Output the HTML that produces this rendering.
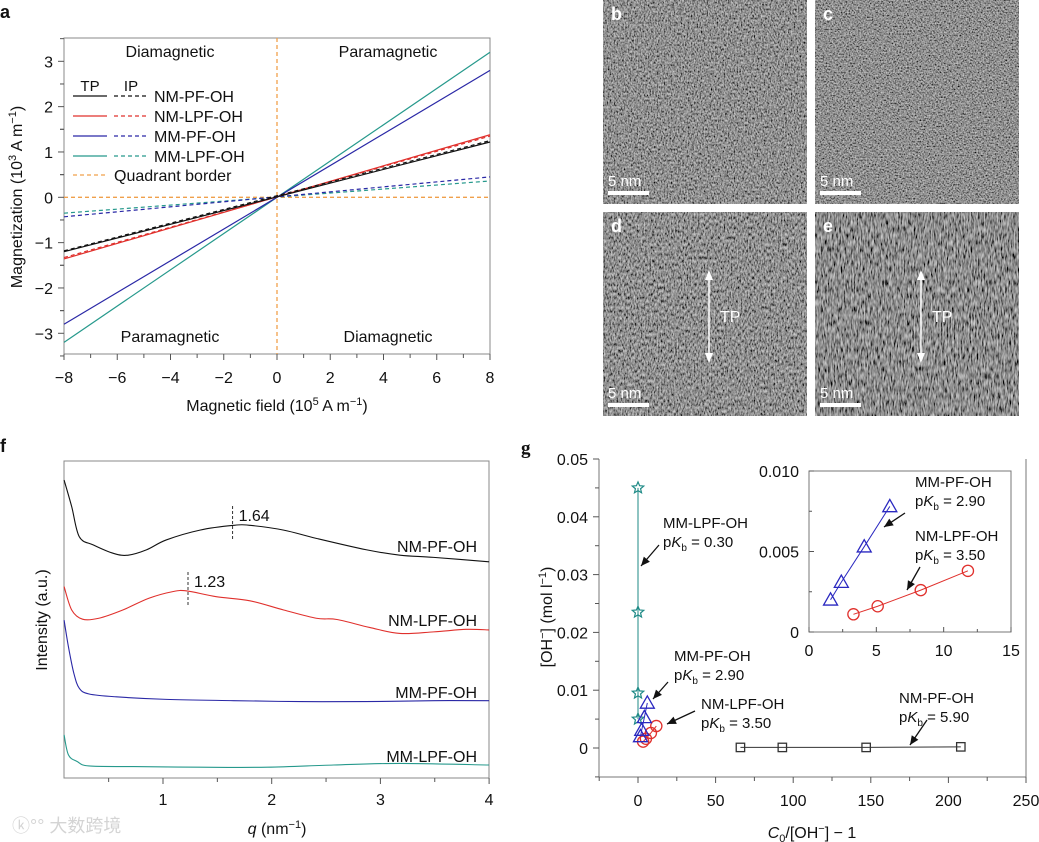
<!DOCTYPE html>
<html><head><meta charset="utf-8">
<style>
html,body{margin:0;padding:0;background:#fff;}
svg{display:block;font-family:"Liberation Sans","Noto Sans CJK SC",sans-serif;}
</style></head>
<body>
<svg id="fig" width="1039" height="842" viewBox="0 0 1039 842" xmlns="http://www.w3.org/2000/svg">
<defs>
<filter id="noiseB" x="0" y="0" width="100%" height="100%"><feTurbulence type="fractalNoise" baseFrequency="0.7 0.45" numOctaves="2" seed="3"/><feColorMatrix type="matrix" values="1.0 0 0 0 -0.22  1.0 0 0 0 -0.22  1.0 0 0 0 -0.22  0 0 0 0 1"/></filter>
<filter id="noiseC" x="0" y="0" width="100%" height="100%"><feTurbulence type="fractalNoise" baseFrequency="0.65" numOctaves="2" seed="7"/><feColorMatrix type="matrix" values="1.0 0 0 0 -0.22  1.0 0 0 0 -0.22  1.0 0 0 0 -0.22  0 0 0 0 1"/></filter>
<filter id="noiseD" x="0" y="0" width="100%" height="100%"><feTurbulence type="fractalNoise" baseFrequency="0.7 0.3" numOctaves="2" seed="11"/><feColorMatrix type="matrix" values="1.0 0 0 0 -0.22  1.0 0 0 0 -0.22  1.0 0 0 0 -0.22  0 0 0 0 1"/></filter>
<filter id="noiseE" x="0" y="0" width="100%" height="100%"><feTurbulence type="fractalNoise" baseFrequency="0.7 0.15" numOctaves="2" seed="19"/><feColorMatrix type="matrix" values="1.1 0 0 0 -0.28  1.1 0 0 0 -0.28  1.1 0 0 0 -0.28  0 0 0 0 1"/></filter>
</defs>
<g id="pa"></g>
<g id="pimg"></g>
<g id="pf"></g>
<g id="pg"></g>
</svg>
<script>
// ---------- Panel a data ----------
const aSeriesNames = ["NM-PF-OH","NM-LPF-OH","MM-PF-OH","MM-LPF-OH"];
const aColors = ["#111111","#e0302c","#2a28a6","#26998c"];
const aFieldEnds = [-8, 8];
const aTPneg = [-1.2, -1.36, -2.8, -3.2];
const aTPpos = [1.22, 1.38, 2.8, 3.2];
const aIPneg = [-1.18, -1.33, -0.43, -0.35];
const aIPpos = [1.25, 1.35, 0.45, 0.36];
const aXTicks = [-8,-6,-4,-2,0,2,4,6,8];
const aYTicks = [-3,-2,-1,0,1,2,3];
// ---------- Panel f data ----------
const fNames = ["NM-PF-OH","NM-LPF-OH","MM-PF-OH","MM-LPF-OH"];
const fColors = ["#111111","#e0302c","#2a28a6","#26998c"];
const fQ0 = [0.09,0.16,0.23,0.36,0.55,0.68,0.85,1.03,1.34,1.65,1.80,2.11,2.41,2.87,3.18,3.49,4.0];
const fI0 = [94.0,85.6,76.1,73.5,70.8,70.3,72.0,75.1,78.2,79.7,79.7,78.2,75.6,72.0,70.3,69.6,68.2];
const fQ1 = [0.09,0.16,0.26,0.41,0.63,0.87,1.09,1.22,1.49,1.80,2.11,2.41,2.6,2.9,3.18,3.49,3.79,4.0];
const fI1 = [60.4,53.0,50.1,50.4,53.0,56.7,58.8,59.0,57.2,55.9,53.0,50.4,50.0,47.5,45.6,46.1,46.9,46.7];
const fQ2 = [0.09,0.13,0.18,0.23,0.32,0.57,1.03,1.65,2.26,2.87,3.49,4.0];
const fI2 = [49.8,41.4,33.0,28.3,26.5,25.6,24.8,24.4,24.1,24.1,24.4,24.4];
const fQ3 = [0.09,0.13,0.21,0.32,0.73,1.34,1.96,2.57,3.18,4.0];
const fI3 = [13.6,7.3,5.2,3.8,3.6,3.4,3.4,4.1,4.6,4.1];
const fPeaks = [1.64, 1.23];
const fPeakLabels = ["1.64","1.23"];
const fXTicks = [1,2,3,4];
// ---------- Panel g data ----------
const gStarX = [0,0,0,0];
const gStarY = [0.045,0.0235,0.0095,0.005];
const gTriX = [1.6,2.4,4.1,6.0];
const gTriY = [0.0020,0.0031,0.0053,0.0078];
const gCirX = [3.3,5.1,8.3,11.8];
const gCirY = [0.0011,0.0016,0.0026,0.0038];
const gSqX = [66,93,147,208];
const gSqY = [0.0001,0.0001,0.0001,0.0002];
const gXTicks = [0,50,100,150,200,250];
const gYTicks = [0,0.01,0.02,0.03,0.04,0.05];
const gYTickLabels = ["0","0.01","0.02","0.03","0.04","0.05"];
const gInXTicks = [0,5,10,15];
const gInYTicks = [0,0.005,0.010];
const gInYTickLabels = ["0","0.005","0.010"];

const NS = "http://www.w3.org/2000/svg";
function mk(tag, attrs, parent, text){
  const el = document.createElementNS(NS, tag);
  for (const k in attrs) el.setAttribute(k, attrs[k]);
  if (text !== undefined) el.textContent = text;
  parent.appendChild(el);
  return el;
}
function txt(parent, x, y, s, size, anchor, extra){
  const el = mk("text", Object.assign({x:x, y:y, "font-size":size, "text-anchor":anchor||"start", fill:"#111"}, extra||{}), parent, s);
  return el;
}
function smooth(pts){
  let d = "M" + pts[0][0] + "," + pts[0][1];
  for (let i=0;i<pts.length-1;i++){
    const p0 = pts[Math.max(0,i-1)], p1 = pts[i], p2 = pts[i+1], p3 = pts[Math.min(pts.length-1,i+2)];
    const c1x = p1[0] + (p2[0]-p0[0])/6, c1y = p1[1] + (p2[1]-p0[1])/6;
    const c2x = p2[0] - (p3[0]-p1[0])/6, c2y = p2[1] - (p3[1]-p1[1])/6;
    d += " C" + c1x + "," + c1y + " " + c2x + "," + c2y + " " + p2[0] + "," + p2[1];
  }
  return d;
}
function arrow(parent, x1, y1, x2, y2){
  const g = mk("g", {}, parent);
  mk("line", {x1:x1,y1:y1,x2:x2,y2:y2,stroke:"#111","stroke-width":1.3}, g);
  const ang = Math.atan2(y2-y1, x2-x1), L = 9, W = 4;
  const bx = x2 - L*Math.cos(ang), by = y2 - L*Math.sin(ang);
  const px = -Math.sin(ang)*W, py = Math.cos(ang)*W;
  mk("polygon", {points: x2+","+y2+" "+(bx+px)+","+(by+py)+" "+(bx-px)+","+(by-py), fill:"#111"}, g);
  return g;
}

// ================= Panel a =================
(function(){
  const P = document.getElementById("pa");
  const L=64, R=490, T=38, B=354;
  const xs = v => 277 + v*26.625;
  const ys = v => 197.3 - v*45.33;
  const lt = txt(P, 0, 18, "a", 18, "start", {"font-weight":"bold"});
  
  
  const fr = mk("rect", {x:L,y:T,width:R-L,height:B-T,fill:"none",stroke:"#888","stroke-width":1}, P);
  
  
  const q1 = mk("line", {x1:xs(0),y1:T,x2:xs(0),y2:B,stroke:"#f0a04b","stroke-width":1.3,"stroke-dasharray":"4,3"}, P);
  
  
  const q2 = mk("line", {x1:L,y1:ys(0),x2:R,y2:ys(0),stroke:"#f0a04b","stroke-width":1.3,"stroke-dasharray":"4,3"}, P);
  
  
  aXTicks.forEach(v=>{
    const t = mk("line", {x1:xs(v),y1:B,x2:xs(v),y2:B+6,stroke:"#555"}, P);
    
    
    const l = txt(P, xs(v), 383, v<0 ? "\u2212"+(-v) : String(v), 16, "middle");
    
    
    if (v<8){
      const m = mk("line", {x1:xs(v+1),y1:B,x2:xs(v+1),y2:B+4,stroke:"#555"}, P);
      
      
    }
  });
  aYTicks.forEach(v=>{
    const t = mk("line", {x1:L-6,y1:ys(v),x2:L,y2:ys(v),stroke:"#555"}, P);
    
    
    const l = txt(P, 53, ys(v)+6, v<0 ? "\u2212"+(-v) : String(v), 16, "end");
    
    
    [-0.5,0.5].forEach(o=>{
      const m = mk("line", {x1:L-4,y1:ys(v+o),x2:L,y2:ys(v+o),stroke:"#555"}, P);
      
      
    });
  });
  const xt = txt(P, 277, 411, "", 16, "middle");
  xt.innerHTML = 'Magnetic field (10<tspan dy="-6" font-size="11">5</tspan><tspan dy="6"> A m</tspan><tspan dy="-6" font-size="11">\u22121</tspan><tspan dy="6">)</tspan>';
  
  
  const yt = txt(P, 0, 0, "", 16, "middle", {transform:"translate(22,197) rotate(-90)"});
  yt.innerHTML = 'Magnetization (10<tspan dy="-6" font-size="11">3</tspan><tspan dy="6"> A m</tspan><tspan dy="-6" font-size="11">\u22121</tspan><tspan dy="6">)</tspan>';
  
  
  for (let i=aSeriesNames.length-1;i>=0;i--){
    const s = mk("line", {x1:xs(aFieldEnds[0]),y1:ys(aTPneg[i]),x2:xs(aFieldEnds[1]),y2:ys(aTPpos[i]),stroke:aColors[i],"stroke-width":1.2}, P);
    
    
    const d = mk("line", {x1:xs(aFieldEnds[0]),y1:ys(aIPneg[i]),x2:xs(aFieldEnds[1]),y2:ys(aIPpos[i]),stroke:aColors[i],"stroke-width":1.2,"stroke-dasharray":"4,3"}, P);
    
    
  }
  [["Diamagnetic",170,57],["Paramagnetic",388,57],["Paramagnetic",170,342],["Diamagnetic",388,342]].forEach(r=>{
    const t = txt(P, r[1], r[2], r[0], 16, "middle");
    
    
  });
  const lg = mk("g", {}, P);
  
  
  const tp = txt(lg, 90, 91, "TP", 15, "middle");  
  const ip = txt(lg, 131, 91, "IP", 15, "middle");  
  const lys = [96,116,136,156];
  aSeriesNames.forEach((n,i)=>{
    const a = mk("line",{x1:73,y1:lys[i],x2:107,y2:lys[i],stroke:aColors[i],"stroke-width":1.2}, lg);
    
    
    const b = mk("line",{x1:114,y1:lys[i],x2:147,y2:lys[i],stroke:aColors[i],"stroke-width":1.2,"stroke-dasharray":"4,3"}, lg);
    
    
    const t = txt(lg, 154, lys[i]+6, n, 16);
    
    
  });
  const qb = mk("line",{x1:73,y1:175,x2:107,y2:175,stroke:"#f0a04b","stroke-width":1.3,"stroke-dasharray":"4,3"}, lg);
  
  
  const qt = txt(lg, 114, 181, "Quadrant border", 16);
  
  
})();

// ================= TEM images =================
(function(){
  const P = document.getElementById("pimg");
  const imgs = [["b",603,0,"noiseB",false],["c",815,0,"noiseC",false],["d",603,212,"noiseD",true],["e",815,212,"noiseE",true]];
  imgs.forEach(im=>{
    const g = mk("g", {}, P);
    
    
    mk("rect", {x:im[1],y:im[2],width:204,height:204,fill:"#777",filter:"url(#"+im[3]+")"}, g);
    const l = txt(g, im[1]+8, im[2]+20, im[0], 18, "start", {fill:"#fff","font-weight":"bold"});
    
    
    const sb = mk("rect", {x:im[1]+5,y:im[2]+191,width:41,height:4,fill:"#fff"}, g);
    
    
    const st = txt(g, im[1]+5, im[2]+186, "5 nm", 15, "start", {fill:"#fff"});
    
    
    if (im[4]){
      const ax = im[1]+106;
      const ar = mk("g", {}, g);
      
      
      mk("line", {x1:ax,y1:im[2]+62,x2:ax,y2:im[2]+147,stroke:"#fff","stroke-width":1.5}, ar);
      mk("polygon", {points:ax+","+(im[2]+58)+" "+(ax-4)+","+(im[2]+68)+" "+(ax+4)+","+(im[2]+68),fill:"#fff"}, ar);
      mk("polygon", {points:ax+","+(im[2]+151)+" "+(ax-4)+","+(im[2]+141)+" "+(ax+4)+","+(im[2]+141),fill:"#fff"}, ar);
      const tt = txt(g, ax+11, im[2]+110, "TP", 16, "start", {fill:"#fff"});
      
      
    }
  });
})();

// ================= Panel f =================
(function(){
  const P = document.getElementById("pf");
  const L=64, R=489, T=461, B=778;
  const xs = q => 54.3 + q*108.7;
  const ys = v => 778 - v*3.17;
  const lt = txt(P, 0, 452, "f", 18, "start", {"font-weight":"bold"});
  
  
  const fr = mk("rect", {x:L,y:T,width:R-L,height:B-T,fill:"none",stroke:"#888","stroke-width":1}, P);
  
  
  fXTicks.forEach(v=>{
    const t = mk("line",{x1:xs(v),y1:B,x2:xs(v),y2:B+6,stroke:"#555"}, P);
    
    
    const m = mk("line",{x1:xs(v-0.5),y1:B,x2:xs(v-0.5),y2:B+4,stroke:"#555"}, P);
    
    
    const l = txt(P, xs(v), 805, String(v), 16, "middle");
    
    
  });
  const xt = txt(P, 277, 834, "", 16, "middle");
  xt.innerHTML = '<tspan font-style="italic">q</tspan> (nm<tspan dy="-6" font-size="11">\u22121</tspan><tspan dy="6">)</tspan>';
  
  
  const yt = txt(P, 0, 0, "Intensity (a.u.)", 16, "middle", {transform:"translate(47,620) rotate(-90)"});
  
  
  const Qs = [fQ0,fQ1,fQ2,fQ3], Is = [fI0,fI1,fI2,fI3];
  const labY = [552,626,698,762];
  fNames.forEach((n,i)=>{
    const pts = Qs[i].map((q,k)=>[xs(q), ys(Is[i][k])]);
    const p = mk("path",{d:smooth(pts),fill:"none",stroke:fColors[i],"stroke-width":1.1}, P);
    
    
    const t = txt(P, 477, labY[i], n, 16, "end");
    
    
  });
  const pkY = [[506,541],[572,607]];
  fPeaks.forEach((q,i)=>{
    const d = mk("line",{x1:xs(q),y1:pkY[i][0],x2:xs(q),y2:pkY[i][1],stroke:"#333","stroke-width":1,"stroke-dasharray":"3,2"}, P);
    
    
    const t = txt(P, xs(q)+6, pkY[i][0]+15, fPeakLabels[i], 16);
    
    
  });
  const wm = txt(P, 12, 832, "\u24DA\u00B0\u00B0 大数跨境", 18, "start", {fill:"#d4d4d4"});
  
  
})();

// ================= Panel g =================
(function(){
  const P = document.getElementById("pg");
  const L=599, R=1026, T=459, B=777;
  const xs = v => 638 + v*1.552;
  const ys = v => 748 - v*5780;
  const lt = txt(P, 521, 454, "g", 19, "start", {"font-weight":"bold","font-family":"Liberation Serif, serif"});
  
  
  const ax = mk("path",{d:"M"+L+","+T+" L"+L+","+B+" L"+R+","+B+" L"+R+","+T,fill:"none",stroke:"#777","stroke-width":1}, P);
  
  
  gXTicks.forEach(v=>{
    const t = mk("line",{x1:xs(v),y1:B,x2:xs(v),y2:B+6,stroke:"#555"}, P);
    
    
    const m = mk("line",{x1:xs(v-25),y1:B,x2:xs(v-25),y2:B+4,stroke:"#555"}, P);
    
    
    const l = txt(P, xs(v), 806, String(v), 16, "middle");
    
    
  });
  gYTicks.forEach((v,i)=>{
    const t = mk("line",{x1:L-6,y1:ys(v),x2:L,y2:ys(v),stroke:"#555"}, P);
    
    
    const m = mk("line",{x1:L-4,y1:ys(v-0.005),x2:L,y2:ys(v-0.005),stroke:"#555"}, P);
    
    
    const l = txt(P, 588, ys(v)+6, gYTickLabels[i], 16, "end");
    
    
  });
  const xt = txt(P, 812, 838, "", 16, "middle");
  xt.innerHTML = '<tspan font-style="italic">C</tspan><tspan dy="4" font-size="11">0</tspan><tspan dy="-4">/[OH</tspan><tspan dy="-6" font-size="11">\u2212</tspan><tspan dy="6">] \u2212 1</tspan>';
  
  
  const yt = txt(P, 0, 0, "", 16, "middle", {transform:"translate(552,617) rotate(-90)"});
  yt.innerHTML = '[OH<tspan dy="-6" font-size="11">\u2212</tspan><tspan dy="6">] (mol l</tspan><tspan dy="-6" font-size="11">\u22121</tspan><tspan dy="6">)</tspan>';
  
  

  function series(X, Y, color, shape, name, xs, ys, sz){
    const g = mk("g",{}, P);
    
    
    const pts = X.map((x,i)=>xs(x)+","+ys(Y[i])).join(" ");
    mk("polyline",{points:pts,fill:"none",stroke:color,"stroke-width":1}, g);
    X.forEach((x,i)=>{
      const cx = xs(x), cy = ys(Y[i]);
      let el;
      if (shape==="tri") el = mk("polygon",{points:cx+","+(cy-sz)+" "+(cx-sz)+","+(cy+sz*0.75)+" "+(cx+sz)+","+(cy+sz*0.75),fill:"none",stroke:color,"stroke-width":1.3}, g);
      else if (shape==="cir") el = mk("circle",{cx:cx,cy:cy,r:sz*0.8,fill:"none",stroke:color,"stroke-width":1.3}, g);
      else if (shape==="sq") el = mk("rect",{x:cx-sz*0.7,y:cy-sz*0.7,width:sz*1.4,height:sz*1.4,fill:"none",stroke:color,"stroke-width":1.3}, g);
      else {
        let p = [];
        for (let k=0;k<10;k++){ const r = k%2? sz*0.45 : sz; const a = -Math.PI/2 + k*Math.PI/5; p.push((cx+r*Math.cos(a))+","+(cy+r*Math.sin(a))); }
        el = mk("polygon",{points:p.join(" "),fill:"none",stroke:color,"stroke-width":1.2}, g);
      }
      
      
    });
  }
  series(gStarX, gStarY, "#1e8a86", "star", "series-mm-lpf-oh", xs, ys, 6);
  series(gSqX, gSqY, "#333", "sq", "series-nm-pf-oh", xs, ys, 6);
  series(gCirX, gCirY, "#e0302c", "cir", "series-nm-lpf-oh", xs, ys, 7);
  series(gTriX, gTriY, "#2a28c0", "tri", "series-mm-pf-oh", xs, ys, 7);

  const ann = [["MM-LPF-OH","0.30",663,528],["MM-PF-OH","2.90",674,661],["NM-LPF-OH","3.50",701,709],["NM-PF-OH","5.90",899,703]];
  ann.forEach(a=>{
    const t1 = txt(P, a[2], a[3], a[0], 15);
    
    
    const t2 = txt(P, a[2], a[3]+19, "", 15);
    t2.innerHTML = 'p<tspan font-style="italic">K</tspan><tspan dy="4" font-size="10">b</tspan><tspan dy="-4"> = '+a[1]+'</tspan>';
    
    
  });
  [[659,545,641,566],[668,682,653,699],[695,711,667,724],[927,720,910,745]].forEach(a=>{
    const ar = arrow(P, a[0],a[1],a[2],a[3]);
    
    
  });

  const IL=809, IR=1011, IT=471, IB=632;
  const ixs = v => IL + v*(IR-IL)/15;
  const iys = v => IB - v*(IB-IT)/0.010;
  const inset = mk("g",{}, P);
  
  
  mk("rect",{x:IL,y:IT,width:IR-IL,height:IB-IT,fill:"#fff",stroke:"#777","stroke-width":1}, inset);
  gInXTicks.forEach(v=>{
    const t = mk("line",{x1:ixs(v),y1:IB-5,x2:ixs(v),y2:IB,stroke:"#555"}, inset);
    
    
    if (v<15){
      const m = mk("line",{x1:ixs(v+2.5),y1:IB-3,x2:ixs(v+2.5),y2:IB,stroke:"#555"}, inset);
      
      
    }
    const l = txt(inset, ixs(v), 656, String(v), 16, "middle");
    
    
  });
  gInYTicks.forEach((v,i)=>{
    const t = mk("line",{x1:IL,y1:iys(v),x2:IL+5,y2:iys(v),stroke:"#555"}, inset);
    
    
    if (i<2){
      const m = mk("line",{x1:IL,y1:iys(v+0.0025),x2:IL+3,y2:iys(v+0.0025),stroke:"#555"}, inset);
      
      
    }
    const l = txt(inset, 799, iys(v)+6, gInYTickLabels[i], 16, "end");
    
    
  });
  series(gTriX, gTriY, "#2a28c0", "tri", "inset-series-mm-pf-oh", ixs, iys, 7);
  series(gCirX, gCirY, "#e0302c", "cir", "inset-series-nm-lpf-oh", ixs, iys, 7);
  [["MM-PF-OH","2.90",915,487],["NM-LPF-OH","3.50",915,541]].forEach(a=>{
    const t1 = txt(P, a[2], a[3], a[0], 15);
    
    
    const t2 = txt(P, a[2], a[3]+19, "", 15);
    t2.innerHTML = 'p<tspan font-style="italic">K</tspan><tspan dy="4" font-size="10">b</tspan><tspan dy="-4"> = '+a[1]+'</tspan>';
    
    
  });
  [[905,513,884,527],[920,567,907,590]].forEach(a=>{
    const ar = arrow(P, a[0],a[1],a[2],a[3]);
    
    
  });
})();
</script>
</body></html>
